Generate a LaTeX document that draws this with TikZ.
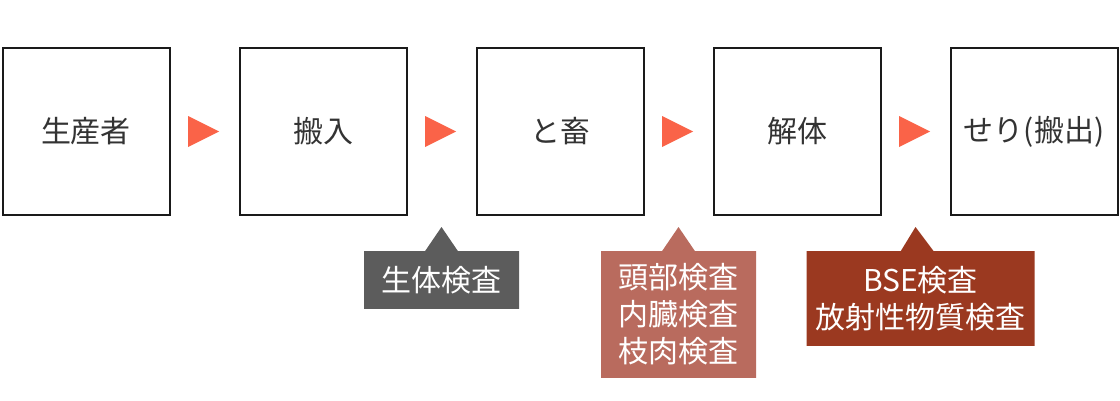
\documentclass[tikz,border=0pt]{standalone}
\usepackage{fontspec}
\newfontfamily\cjk{Noto Sans CJK JP}
\usepackage{xcolor}
\usepackage{tikz}
\usetikzlibrary{positioning,calc,shapes.geometric,shapes.callouts}
\definecolor{inkdark}{RGB}{51,51,51}
\definecolor{boxline}{RGB}{26,26,26}
\definecolor{flowred}{RGB}{250,99,72}
\definecolor{checkgray}{RGB}{92,92,92}
\definecolor{checkrose}{RGB}{185,107,94}
\definecolor{checkbrown}{RGB}{155,57,32}

\begin{document}
\begin{tikzpicture}[
    node distance=68pt,
    proc/.style={draw=boxline, line width=2pt, fill=white, minimum size=167pt,
                inner sep=0pt, font=\cjk\fontsize{30}{36}\selectfont, text=inkdark},
    tri/.style={isosceles triangle, isosceles triangle stretches, fill=flowred,
                minimum width=31pt, minimum height=31pt, inner sep=0pt,
                anchor=west, xshift=-16.5pt},
    check/.style={rectangle callout, callout pointer width=33pt,
                callout absolute pointer={($(#1)+(0,-95.5pt)$)},
                below=119.5pt of #1, minimum width=155pt, inner xsep=9pt, inner ysep=15pt,
                align=center, text=white, font=\cjk\fontsize{30}{37}\selectfont}
]
\useasboundingbox (0,0) rectangle (1120pt,-400pt);

\node[proc] (producer) at (86pt,-131.5pt) {生産者};
\node[proc, right=of producer] (intake) {搬入};
\node[proc, right=of intake] (slaughter) {と畜};
\node[proc, right=of slaughter] (dressing) {解体};
\node[proc, right=of dressing] (auction) {せり(搬出)};

% gaps between the boxes
\coordinate (g1) at ($(producer.east)!0.5!(intake.west)$);
\coordinate (g2) at ($(intake.east)!0.5!(slaughter.west)$);
\coordinate (g3) at ($(slaughter.east)!0.5!(dressing.west)$);
\coordinate (g4) at ($(dressing.east)!0.5!(auction.west)$);

\node[tri] (t1) at (g1) {};
\node[tri] (t2) at (g2) {};
\node[tri] (t3) at (g3) {};
\node[tri] (t4) at (g4) {};

\node[check=g2, fill=checkgray] (live) {生体検査};
\node[check=g3, fill=checkrose, inner ysep=12.5pt] (organ) {頭部検査\\内臓検査\\枝肉検査};
\node[check=g4, fill=checkbrown, xshift=5pt] (bse) {BSE検査\\放射性物質検査};
\end{tikzpicture}
\end{document}
